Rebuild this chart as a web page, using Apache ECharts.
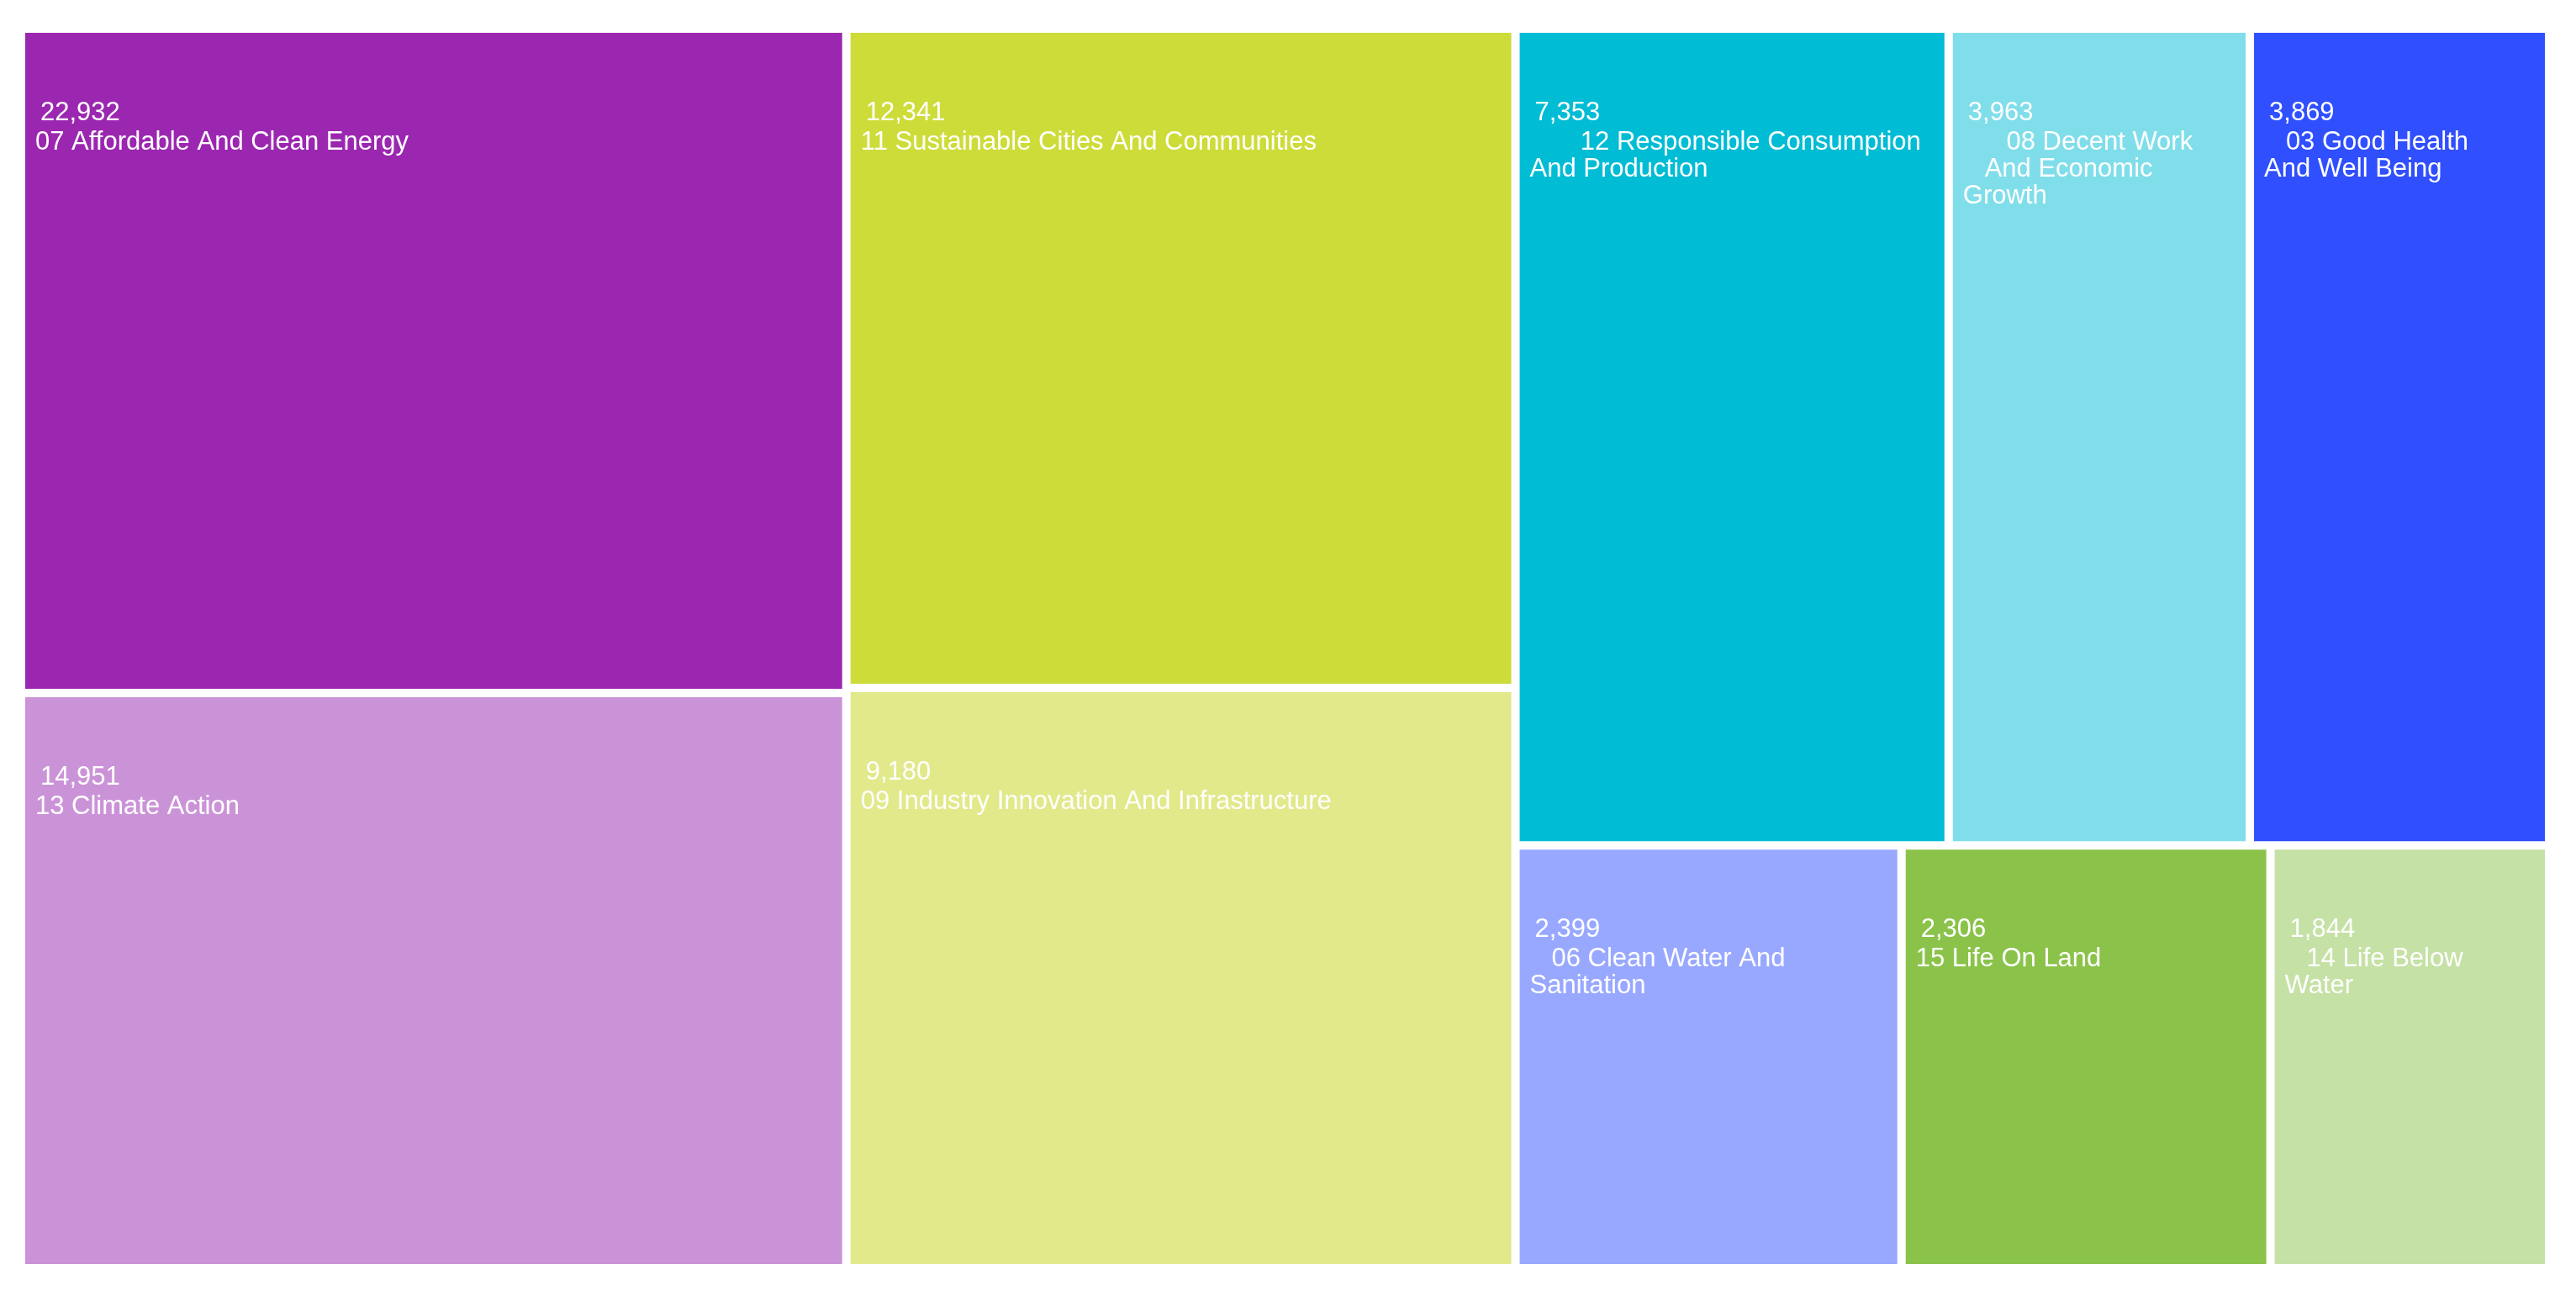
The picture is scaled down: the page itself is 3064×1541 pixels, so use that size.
<!DOCTYPE html>
<html>
<head>
<meta charset="utf-8">
<title>SDG treemap</title>
<script src="https://cdn.jsdelivr.net/npm/echarts@6/dist/echarts.min.js"></script>
<style>
  html, body { margin: 0; padding: 0; background: #fff; }
  #chart { width: 3064px; height: 1541px; }
</style>
</head>
<body>
<div id="chart"></div>
<script>
// box labels as drawn (line breaks and indents kept)
const labels = [
  '07 Affordable And Clean Energy',
  '13 Climate Action',
  '11 Sustainable Cities And Communities',
  '09 Industry Innovation And Infrastructure',
  '       12 Responsible Consumption\nAnd Production',
  '      08 Decent Work\n   And Economic\nGrowth',
  '   03 Good Health\nAnd Well Being',
  '   06 Clean Water And\nSanitation',
  '15 Life On Land',
  '   14 Life Below\nWater'
]
// number printed in each box
const counts = [22932, 14951, 12341, 9180, 7353, 3963, 3869, 2399, 2306, 1844]
// box size, % of the chart area
const sizes = [17.50, 15.15, 14.08, 12.39, 11.29, 7.85, 7.80, 5.21, 4.98, 3.76]
const colors = ['#9B27B0', '#CB93D7', '#CDDC39', '#E1E98B', '#00BCD4',
  '#80DEEA', '#304FFE', '#99A8FF', '#8BC34A', '#C5E1A5']

const chart = echarts.init(document.getElementById('chart'))

const seriesData = labels.map((label, i) => ({
  name: label.replace(/\s+/g, ' ').trim(),
  value: sizes[i],
  count: counts[i],
  lines: label.split('\n'),
  itemStyle: { color: colors[i] }
}))

const font = '"Liberation Sans", Arial, sans-serif'

chart.setOption({
  backgroundColor: '#fff',
  animation: false,
  series: [{
    type: 'treemap',
    left: 30,
    top: 39,
    width: 2997,
    height: 1464,
    roam: false,
    nodeClick: false,
    breadcrumb: { show: false },
    squareRatio: 1.613,
    itemStyle: { gapWidth: 10, borderWidth: 0 },
    label: {
      show: true,
      position: [12, 77],
      padding: 0,
      color: '#fff',
      fontFamily: font,
      fontSize: 31,
      formatter(p) {
        const rows = ['{v|' + echarts.format.addCommas(p.data.count) + '}']
        p.data.lines.forEach(l => rows.push('{n|' + l + '}'))
        return rows.join('\n')
      },
      rich: {
        v: { color: '#fff', fontFamily: font, fontSize: 31, lineHeight: 37, padding: [0, 0, 0, 6] },
        n: { color: '#fff', fontFamily: font, fontSize: 31, lineHeight: 32 }
      }
    },
    data: seriesData
  }]
})
</script>
</body>
</html>
